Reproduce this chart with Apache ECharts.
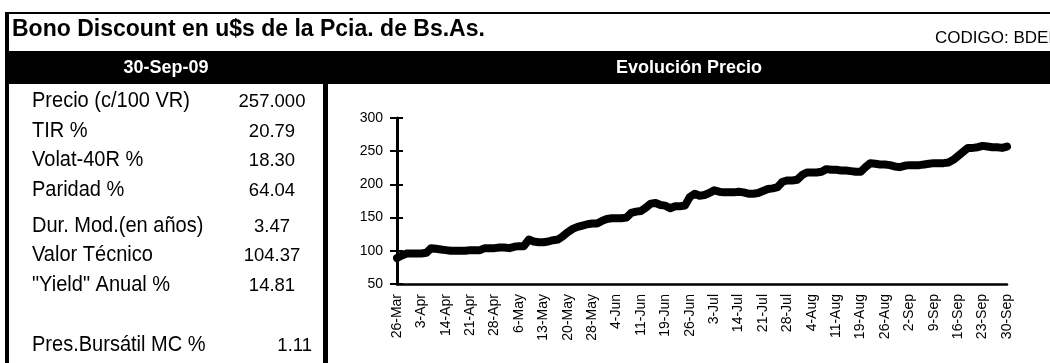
<!DOCTYPE html>
<html>
<head>
<meta charset="utf-8">
<script src="https://cdn.jsdelivr.net/npm/echarts@6/dist/echarts.min.js"></script>
<style>
  html, body { margin: 0; padding: 0; background: #fff; }
  #main { width: 1050px; height: 363px; }
</style>
</head>
<body>
<div id="main"></div>
<script>
// Trading days shown on the price chart (every 5th one is labelled)
const dates = [
  '26-Mar','27-Mar','30-Mar','31-Mar',
  '1-Apr','3-Apr','6-Apr','7-Apr','8-Apr','13-Apr','14-Apr','15-Apr','16-Apr','17-Apr','20-Apr','21-Apr','22-Apr','23-Apr','24-Apr','27-Apr','28-Apr','29-Apr','30-Apr',
  '4-May','5-May','6-May','7-May','8-May','11-May','12-May','13-May','14-May','15-May','18-May','19-May','20-May','21-May','22-May','26-May','27-May','28-May','29-May',
  '1-Jun','2-Jun','3-Jun','4-Jun','5-Jun','8-Jun','9-Jun','10-Jun','11-Jun','12-Jun','16-Jun','17-Jun','18-Jun','19-Jun','22-Jun','23-Jun','24-Jun','25-Jun','26-Jun','29-Jun','30-Jun',
  '1-Jul','2-Jul','3-Jul','6-Jul','7-Jul','8-Jul','13-Jul','14-Jul','15-Jul','16-Jul','17-Jul','20-Jul','21-Jul','22-Jul','23-Jul','24-Jul','27-Jul','28-Jul','29-Jul','30-Jul','31-Jul',
  '3-Aug','4-Aug','5-Aug','6-Aug','7-Aug','10-Aug','11-Aug','12-Aug','13-Aug','14-Aug','18-Aug','19-Aug','20-Aug','21-Aug','24-Aug','25-Aug','26-Aug','27-Aug','28-Aug','31-Aug',
  '1-Sep','2-Sep','3-Sep','4-Sep','7-Sep','8-Sep','9-Sep','10-Sep','11-Sep','14-Sep','15-Sep','16-Sep','17-Sep','18-Sep','21-Sep','22-Sep','23-Sep','24-Sep','25-Sep','28-Sep','29-Sep','30-Sep'
];

// Price (c/100 VR) for each trading day
const prices = [
  89, 93, 96, 96, 96, 96, 97, 104, 103, 102,
  101, 100, 100, 100, 100, 101, 101, 101, 104, 104,
  104, 105, 105, 104, 106, 107, 107, 117, 114, 113,
  113, 114, 116, 117, 122, 128, 133, 136, 138, 140,
  141, 141, 145, 148, 149, 149, 149, 150, 157, 159,
  160, 165, 171, 172, 169, 168, 164, 167, 167, 168,
  181, 186, 183, 184, 187, 191, 189, 188, 188, 188,
  189, 188, 186, 186, 187, 190, 193, 194, 196, 204,
  206, 206, 207, 214, 218, 218, 218, 219, 223, 222,
  222, 221, 221, 220, 219, 219, 226, 232, 231, 230,
  230, 229, 227, 226, 228, 229, 229, 229, 230, 231,
  232, 232, 232, 233, 237, 243, 249, 255, 255, 256,
  258, 257, 256, 256, 255, 257
];

const yMin = 50, yMax = 300, yStep = 50;

// Summary panel
const titleText = 'Bono Discount en u$s de la Pcia. de Bs.As.';
const codeText = 'CODIGO: BDEI';
const dateText = '30-Sep-09';
const chartTitle = 'Evolución Precio';
const statLabels = ['Precio (c/100 VR)', 'TIR %', 'Volat-40R %', 'Paridad %', 'Dur. Mod.(en años)', 'Valor Técnico', '"Yield" Anual %', 'Pres.Bursátil MC %'];
const statValues = ['257.000', '20.79', '18.30', '64.04', '3.47', '104.37', '14.81', '1.11'];

// ---- layout ----
const FAMILY = '"Liberation Sans", Arial, sans-serif';
const rowY = [101, 131, 160, 190, 226, 255, 285, 345];
const labelX = 32;
const valueX = 272;
const lastValueRight = 312;

const measureCtx = document.createElement('canvas').getContext('2d');
function textWidth(text, font) {
  measureCtx.font = font;
  return measureCtx.measureText(text).width;
}

function textEl(text, x, y, size, opts) {
  opts = opts || {};
  const font = (opts.weight || 'normal') + ' ' + size + 'px ' + FAMILY;
  let sx = opts.scaleX || 1;
  if (opts.fitWidth) sx = opts.fitWidth / textWidth(text, font);
  return {
    type: 'text', x: x, y: y, scaleX: sx, z: 10,
    style: {
      text: text, font: font, fill: opts.fill || '#000',
      align: opts.align || 'left', textAlign: opts.align || 'left',
      verticalAlign: 'middle', textVerticalAlign: 'middle'
    }
  };
}

// one narrowing factor for all panel labels, taken from the first label
const labelFont = 'normal 22px ' + FAMILY;
const labelScale = 158 / textWidth(statLabels[0], labelFont);

const graphics = [
  { type: 'rect', shape: { x: 5, y: 12, width: 1045, height: 2 }, style: { fill: '#000' }, z: 5 },
  { type: 'rect', shape: { x: 5, y: 12, width: 4, height: 351 }, style: { fill: '#000' }, z: 5 },
  { type: 'rect', shape: { x: 5, y: 51, width: 1045, height: 33 }, style: { fill: '#000' }, z: 5 },
  { type: 'rect', shape: { x: 323, y: 84, width: 5, height: 279 }, style: { fill: '#000' }, z: 5 },
  textEl(titleText, 12, 30, 23, { weight: 'bold' }),
  textEl(codeText, 935, 38, 17),
  textEl(dateText, 166, 68, 18, { weight: 'bold', fill: '#fff', align: 'center' }),
  textEl(chartTitle, 689, 68, 18, { weight: 'bold', fill: '#fff', align: 'center' })
];
statLabels.forEach(function (t, i) {
  graphics.push(textEl(t, labelX, rowY[i], 22, { scaleX: labelScale }));
});
statValues.forEach(function (t, i) {
  const last = i === statValues.length - 1;
  graphics.push(textEl(t, last ? lastValueRight : valueX, rowY[i] + 1, 18.5, { align: last ? 'right' : 'center' }));
});

const chart = echarts.init(document.getElementById('main'), null, { renderer: 'canvas' });
chart.setOption({
  backgroundColor: '#fff',
  animation: false,
  grid: { left: 397, right: 43, top: 118, bottom: 79, containLabel: false },
  xAxis: {
    type: 'category',
    data: dates,
    boundaryGap: false,
    axisLine: { onZero: false, lineStyle: { color: '#000', width: 2.5 } },
    axisTick: { show: false },
    axisLabel: { interval: 4, rotate: 90, margin: 10, color: '#000', fontSize: 14, fontFamily: FAMILY },
    splitLine: { show: false }
  },
  yAxis: [
    {
      type: 'value', min: yMin, max: yMax, interval: yStep,
      axisLine: { show: true, lineStyle: { color: '#000', width: 3 } },
      axisTick: { show: true, length: 7, lineStyle: { color: '#000', width: 2 } },
      axisLabel: { margin: 14, color: '#000', fontSize: 14, fontFamily: FAMILY },
      splitLine: { show: false }
    },
    {
      type: 'value', min: yMin, max: yMax, interval: yStep, position: 'left',
      axisLine: { show: false },
      axisTick: { show: true, inside: true, length: 6, lineStyle: { color: '#000', width: 2 } },
      axisLabel: { show: false },
      splitLine: { show: false }
    }
  ],
  series: [{
    type: 'line',
    data: prices,
    symbol: 'none',
    lineStyle: { color: '#000', width: 8, cap: 'round', join: 'round' },
    z: 3
  }],
  graphic: graphics
});
</script>
</body>
</html>
